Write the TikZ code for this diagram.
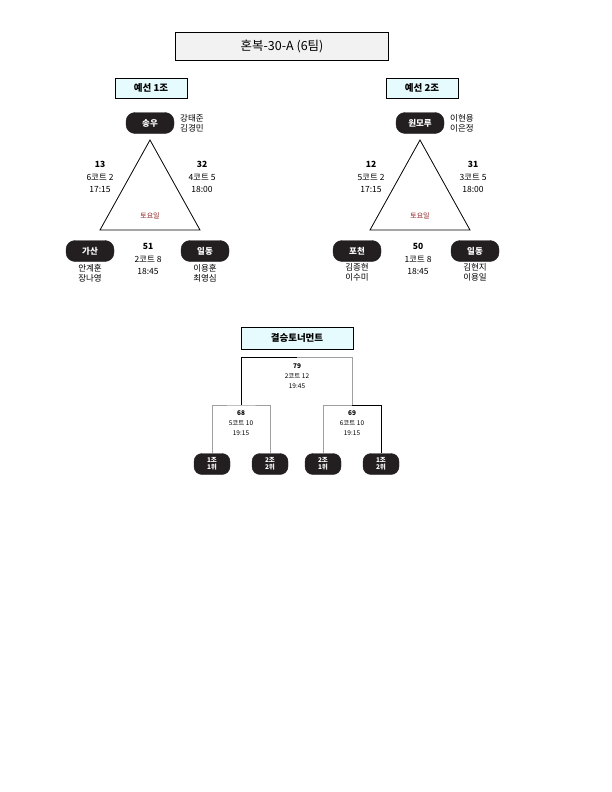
\documentclass[tikz,border=0pt]{standalone}
\usepackage{fontspec}
\setmainfont{Noto Sans CJK KR}
\usepackage{tikz}
\usetikzlibrary{positioning}
\definecolor{pillblack}{HTML}{231F20}
\definecolor{labelcyan}{HTML}{E6FBFD}
\definecolor{daydark}{HTML}{8B1A1A}
\definecolor{linegray}{HTML}{A0A0A0}
\tikzset{
  team/.style={draw=pillblack, fill=pillblack, rounded corners=9pt, minimum width=48pt, minimum height=21pt, text=white, font=\fontsize{8.5}{9}\selectfont\bfseries},
  seed/.style={draw=pillblack, fill=pillblack, rounded corners=8pt, minimum width=36pt, minimum height=21pt, text=white, align=center, inner sep=0pt, font=\fontsize{6.5}{7.5}\selectfont\bfseries},
  grouplabel/.style={draw, fill=labelcyan, minimum width=72pt, minimum height=20pt, font=\fontsize{9.5}{10}\selectfont\bfseries},
  players/.style={align=left, font=\fontsize{8.5}{10}\selectfont, inner sep=0pt},
  matchinfo/.style={align=center, font=\fontsize{8.5}{12.5}\selectfont, inner sep=0pt},
  smallinfo/.style={align=center, font=\fontsize{6.5}{10}\selectfont, inner sep=0pt},
}
\begin{document}
\begin{tikzpicture}[x=1pt, y=-1pt]
    \useasboundingbox (0,0) rectangle (612,792);
    % Title
    \node[draw, fill=black!5, minimum width=213pt, minimum height=28pt, font=\fontsize{12.5}{14}\selectfont] (title) at (282,46) {혼복-30-A (6팀)};

    % Group 1
    \node[grouplabel] (g1) at (151,88) {예선 1조};
    \coordinate (g1top) at (150,140);
    \coordinate (g1left) at (100,230);
    \coordinate (g1right) at (200,230);
    \draw[thick] (g1top) -- (g1left) -- (g1right) -- cycle;
    \node[team] (songu) at (150,123) {송우};
    \node[team] (gasan) at (90,251) {가산};
    \node[team] (ildong1) at (205,251) {일동};
    \node[players, anchor=west] (p1a) at (180,123) {강태준\\김경민};
    \node[players, anchor=north] (p1b) at (gasan.south) [yshift=-2pt] {안계훈\\장나영};
    \node[players, anchor=north] (p1c) at (ildong1.south) [yshift=-2pt] {이용훈\\최영심};
    \node[matchinfo] (m13) at (100,177) {\textbf{13}\\6코트 2\\17:15};
    \node[matchinfo] (m32) at (202,177) {\textbf{32}\\4코트 5\\18:00};
    \node[matchinfo] (m51) at (148,259) {\textbf{51}\\2코트 8\\18:45};
    \node[font=\fontsize{7}{8}\selectfont, text=daydark] (day1) at (150,216) {토요일};

    % Group 2
    \node[grouplabel] (g2) at (422,88) {예선 2조};
    \coordinate (g2top) at (420,140);
    \coordinate (g2left) at (370,230);
    \coordinate (g2right) at (470,230);
    \draw[thick] (g2top) -- (g2left) -- (g2right) -- cycle;
    \node[team] (wonmoru) at (420,123) {원모루};
    \node[team] (pocheon) at (357,251) {포천};
    \node[team] (ildong2) at (475,251) {일동};
    \node[players, anchor=west] (p2a) at (450,123) {이현용\\이은정};
    \node[players, anchor=north] (p2b) at (pocheon.south) [yshift=-2pt] {김종현\\이수미};
    \node[players, anchor=north] (p2c) at (ildong2.south) [yshift=-2pt] {김현지\\이용일};
    \node[matchinfo] (m12) at (371,177) {\textbf{12}\\5코트 2\\17:15};
    \node[matchinfo] (m31) at (473,177) {\textbf{31}\\3코트 5\\18:00};
    \node[matchinfo] (m50) at (418,259) {\textbf{50}\\1코트 8\\18:45};
    \node[font=\fontsize{7}{8}\selectfont, text=daydark] (day2) at (420,216) {토요일};

    % Final tournament
    \node[grouplabel, minimum width=112pt, minimum height=22pt] (final) at (297,338) {결승토너먼트};
    \node[seed] (s1) at (212,464) {1조\\1위};
    \node[seed] (s2) at (270,464) {2조\\2위};
    \node[seed] (s3) at (323,464) {2조\\1위};
    \node[seed] (s4) at (381,464) {1조\\2위};
    \coordinate (q1) at (241,405);
    \coordinate (q2) at (352,405);
    \draw[linegray] (s1.north) |- (q1) -| (s2.north);
    \draw[linegray] (s3.north) |- (q2);
    \draw (q2) -| (s4.north);
    \draw (q1) |- (297,357);
    \draw[linegray] (297,357) -| (q2);
    \node[smallinfo] (m79) at (297,376) {\textbf{79}\\2코트 12\\19:45};
    \node[smallinfo] (m68) at (241,423) {\textbf{68}\\5코트 10\\19:15};
    \node[smallinfo] (m69) at (352,423) {\textbf{69}\\6코트 10\\19:15};
\end{tikzpicture}
\end{document}
